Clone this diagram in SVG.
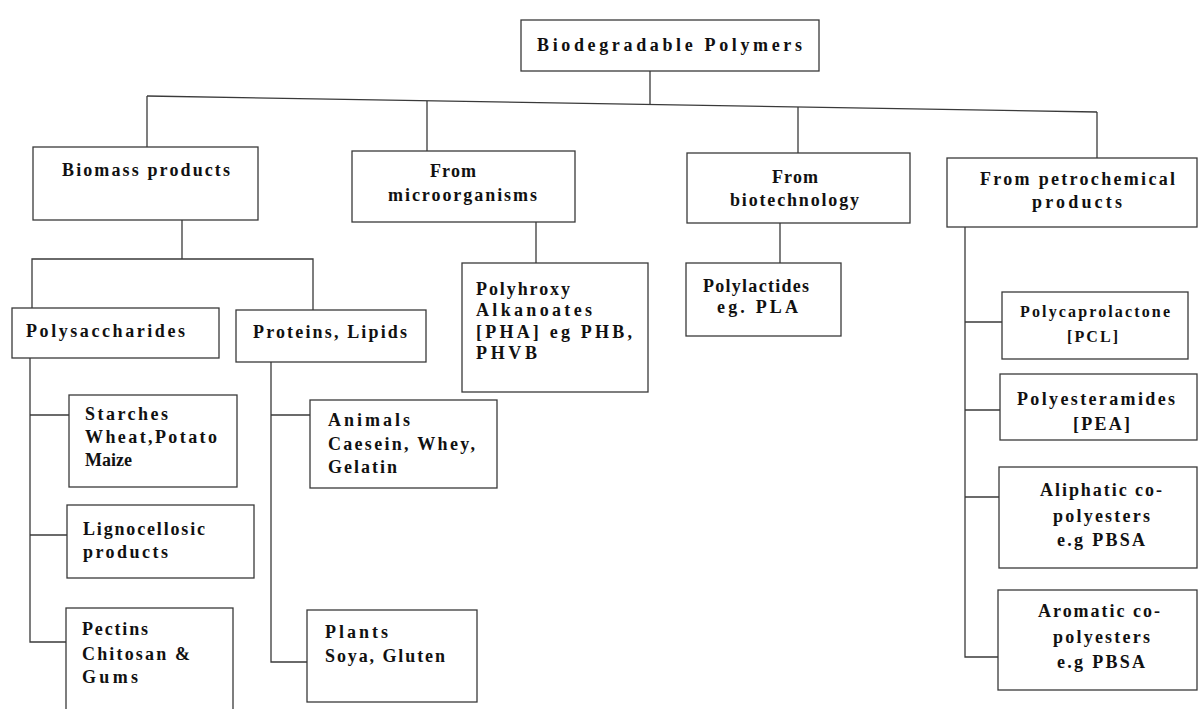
<svg xmlns="http://www.w3.org/2000/svg" width="1198" height="709" viewBox="0 0 1198 709">
<style>
.box{fill:#fff;stroke:#3a3a3a;stroke-width:1.3}
.c{fill:none;stroke:#3a3a3a;stroke-width:1.3}
.t{font-family:"Liberation Serif","Times New Roman",serif;font-weight:bold;font-size:18px;fill:#111}
.s{font-size:16px}
</style>
<rect width="1198" height="709" fill="#fff"/>
<g id="connectors">
<line class="c" x1="650" y1="71" x2="650" y2="104"/>
<line class="c" x1="147" y1="96" x2="1097" y2="112"/>
<line class="c" x1="147" y1="96" x2="147" y2="147"/>
<line class="c" x1="427" y1="101" x2="427" y2="151"/>
<line class="c" x1="798" y1="107" x2="798" y2="153"/>
<line class="c" x1="1097" y1="112" x2="1097" y2="158"/>
<line class="c" x1="182" y1="220" x2="182" y2="259"/>
<polyline class="c" points="32,308 32,259 313,259 313,310"/>
<polyline class="c" points="30,358 30,642 66,642"/>
<line class="c" x1="30" y1="415" x2="69" y2="415"/>
<line class="c" x1="30" y1="535" x2="67" y2="535"/>
<polyline class="c" points="271,362 271,662 307,662"/>
<line class="c" x1="271" y1="415" x2="310" y2="415"/>
<line class="c" x1="536" y1="222" x2="536" y2="263"/>
<line class="c" x1="780" y1="223" x2="780" y2="263"/>
<polyline class="c" points="965,227 965,657 998,657"/>
<line class="c" x1="965" y1="322" x2="1002" y2="322"/>
<line class="c" x1="965" y1="410" x2="1000" y2="410"/>
<line class="c" x1="965" y1="497" x2="999" y2="497"/>
</g>
<g id="root">
<rect class="box" x="521" y="20" width="298" height="51"/>
<text class="t" x="537" y="51" font-size="20" textLength="265" lengthAdjust="spacing">Biodegradable Polymers</text>
</g>
<g id="biomass">
<rect class="box" x="33" y="147" width="225" height="73"/>
<text class="t" x="62" y="176" textLength="168" lengthAdjust="spacing">Biomass products</text>
</g>
<g id="micro">
<rect class="box" x="352" y="151" width="223" height="71"/>
<text class="t" x="430" y="177" textLength="46" lengthAdjust="spacing">From</text>
<text class="t" x="388" y="201" textLength="149" lengthAdjust="spacing">microorganisms</text>
</g>
<g id="biotech">
<rect class="box" x="687" y="153" width="223" height="70"/>
<text class="t" x="772" y="183" textLength="46" lengthAdjust="spacing">From</text>
<text class="t" x="730" y="206" textLength="129" lengthAdjust="spacing">biotechnology</text>
</g>
<g id="petro">
<rect class="box" x="947" y="158" width="250" height="69"/>
<text class="t" x="980" y="185" textLength="195" lengthAdjust="spacing">From petrochemical</text>
<text class="t" x="1032" y="208" textLength="90" lengthAdjust="spacing">products</text>
</g>
<g id="polysaccharides">
<rect class="box" x="12" y="308" width="207" height="50"/>
<text class="t" x="26" y="337" textLength="159" lengthAdjust="spacing">Polysaccharides</text>
</g>
<g id="proteins">
<rect class="box" x="236" y="310" width="190" height="52"/>
<text class="t" x="253" y="338" textLength="154" lengthAdjust="spacing">Proteins, Lipids</text>
</g>
<g id="starches">
<rect class="box" x="69" y="395" width="168" height="92"/>
<text class="t" x="85" y="420" textLength="83" lengthAdjust="spacing">Starches</text>
<text class="t" x="85" y="443" textLength="132" lengthAdjust="spacing">Wheat,Potato</text>
<text class="t" x="85" y="466">Maize</text>
</g>
<g id="ligno">
<rect class="box" x="67" y="505" width="187" height="73"/>
<text class="t" x="83" y="535" textLength="122" lengthAdjust="spacing">Lignocellosic</text>
<text class="t" x="83" y="558" textLength="85" lengthAdjust="spacing">products</text>
</g>
<g id="pectins">
<rect class="box" x="66" y="608" width="167" height="115"/>
<text class="t" x="82" y="635" textLength="66" lengthAdjust="spacing">Pectins</text>
<text class="t" x="82" y="660" textLength="108" lengthAdjust="spacing">Chitosan &amp;</text>
<text class="t" x="82" y="683" textLength="56" lengthAdjust="spacing">Gums</text>
</g>
<g id="animals">
<rect class="box" x="310" y="400" width="187" height="88"/>
<text class="t" x="328" y="426" textLength="82" lengthAdjust="spacing">Animals</text>
<text class="t" x="328" y="450" textLength="147" lengthAdjust="spacing">Caesein, Whey,</text>
<text class="t" x="328" y="473" textLength="69" lengthAdjust="spacing">Gelatin</text>
</g>
<g id="plants">
<rect class="box" x="307" y="610" width="170" height="92"/>
<text class="t" x="325" y="638" textLength="63" lengthAdjust="spacing">Plants</text>
<text class="t" x="325" y="662" textLength="120" lengthAdjust="spacing">Soya, Gluten</text>
</g>
<g id="pha">
<rect class="box" x="462" y="263" width="186" height="129"/>
<text class="t" x="476" y="295" textLength="94" lengthAdjust="spacing">Polyhroxy</text>
<text class="t" x="476" y="316" textLength="116" lengthAdjust="spacing">Alkanoates</text>
<text class="t" x="476" y="338" textLength="156" lengthAdjust="spacing">[PHA] eg PHB,</text>
<text class="t" x="476" y="359" textLength="61" lengthAdjust="spacing">PHVB</text>
</g>
<g id="pla">
<rect class="box" x="686" y="263" width="155" height="73"/>
<text class="t" x="703" y="292" textLength="106" lengthAdjust="spacing">Polylactides</text>
<text class="t" x="717" y="313" textLength="81" lengthAdjust="spacing">eg. PLA</text>
</g>
<g id="pcl">
<rect class="box" x="1002" y="292" width="186" height="67"/>
<text class="t s" x="1020" y="317" textLength="150" lengthAdjust="spacing">Polycaprolactone</text>
<text class="t s" x="1067" y="342" textLength="51" lengthAdjust="spacing">[PCL]</text>
</g>
<g id="pea">
<rect class="box" x="1000" y="374" width="197" height="66"/>
<text class="t" x="1017" y="405" textLength="158" lengthAdjust="spacing">Polyesteramides</text>
<text class="t" x="1073" y="430" textLength="57" lengthAdjust="spacing">[PEA]</text>
</g>
<g id="aliphatic">
<rect class="box" x="999" y="467" width="198" height="101"/>
<text class="t" x="1040" y="496" textLength="122" lengthAdjust="spacing">Aliphatic co-</text>
<text class="t" x="1053" y="522" textLength="97" lengthAdjust="spacing">polyesters</text>
<text class="t" x="1057" y="546" textLength="88" lengthAdjust="spacing">e.g PBSA</text>
</g>
<g id="aromatic">
<rect class="box" x="998" y="590" width="199" height="100"/>
<text class="t" x="1038" y="617" textLength="122" lengthAdjust="spacing">Aromatic co-</text>
<text class="t" x="1053" y="643" textLength="97" lengthAdjust="spacing">polyesters</text>
<text class="t" x="1057" y="668" textLength="88" lengthAdjust="spacing">e.g PBSA</text>
</g>
</svg>
